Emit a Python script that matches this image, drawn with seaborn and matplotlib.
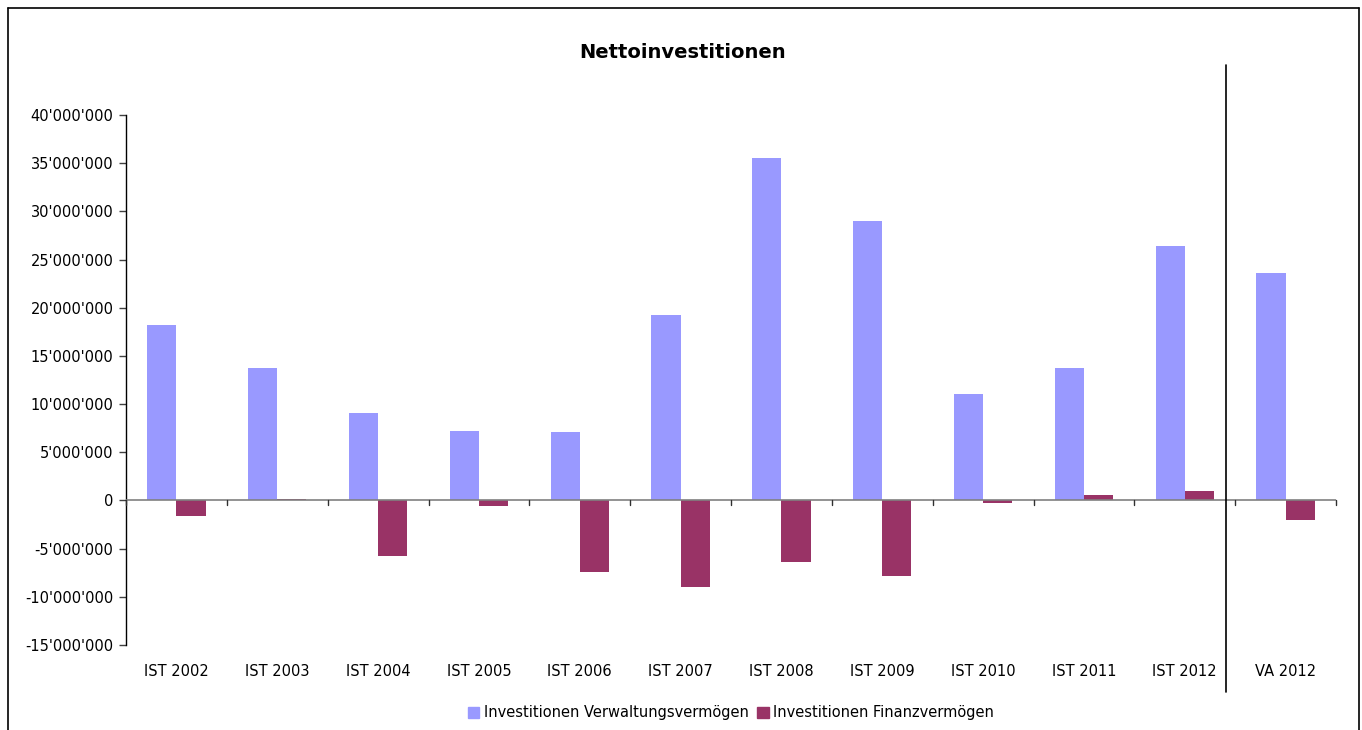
import matplotlib
matplotlib.use("Agg")
import matplotlib.pyplot as plt
import matplotlib.ticker as mticker
from matplotlib.lines import Line2D
import seaborn as sns
import pandas as pd

categories = ["IST 2002", "IST 2003", "IST 2004", "IST 2005", "IST 2006", "IST 2007",
              "IST 2008", "IST 2009", "IST 2010", "IST 2011", "IST 2012", "VA 2012"]
verwaltung = [18.2e6, 13.75e6, 9.08e6, 7.2e6, 7.1e6, 19.25e6,
              35.5e6, 29.0e6, 11.05e6, 13.75e6, 26.45e6, 23.6e6]
finanz = [-1.58e6, 0.15e6, -5.76e6, -0.57e6, -7.4e6, -8.98e6,
          -6.4e6, -7.85e6, -0.23e6, 0.57e6, 0.99e6, -1.99e6]
series_names = ["Investitionen Verwaltungsvermögen", "Investitionen Finanzvermögen"]
colors = ["#9999FF", "#993366"]
yticks = list(range(-15_000_000, 40_000_001, 5_000_000))

df = pd.DataFrame({
    "Kategorie": categories * 2,
    "Wert": verwaltung + finanz,
    "Serie": [series_names[0]] * len(categories) + [series_names[1]] * len(categories),
})

sns.set_style("white")
plt.rcParams["font.family"] = ["DejaVu Sans"]
plt.rcParams["text.color"] = "black"
plt.rcParams["xtick.color"] = "black"
plt.rcParams["ytick.color"] = "black"
plt.rcParams["axes.labelcolor"] = "black"

fig = plt.figure(figsize=(13.62, 7.30), dpi=100)
ax = fig.add_axes([126 / 1362, 1 - 645 / 730, (1336 - 126) / 1362, (645 - 115) / 730])

sns.barplot(data=df, x="Kategorie", y="Wert", hue="Serie", palette=colors,
            width=0.58, gap=0, ax=ax, legend=False, saturation=1, linewidth=0,
            edgecolor="none")

ax.set_ylim(-15_000_000, 40_000_000)
ax.set_xlim(-0.5, len(categories) - 0.5)
ax.set_yticks(yticks)
ax.yaxis.set_major_formatter(mticker.FuncFormatter(
    lambda v, p: f"{int(v):,}".replace(",", "'")))
ax.set_xlabel("")
ax.set_ylabel("")

for s in ["top", "right", "bottom"]:
    ax.spines[s].set_visible(False)
ax.spines["left"].set_color("black")
ax.spines["left"].set_linewidth(1)

ax.axhline(0, color="#808080", lw=1.2, zorder=3)
ax.tick_params(axis="y", which="major", left=True, length=5, width=1, color="#404040",
               labelsize=10.5, pad=4, labelcolor="black")
ax.tick_params(axis="x", which="major", bottom=False, length=0, labelsize=10.5, pad=14,
               labelcolor="black")
# category boundary ticks on the zero line
for b in [i + 0.5 for i in range(-1, len(categories))]:
    ax.plot([b, b], [0, -500_000], color="#303030", lw=1, clip_on=False, zorder=3)

# separator line between IST and VA
sep_x = 1226 / 1362
fig.add_artist(Line2D([sep_x, sep_x], [1 - 65 / 730, 1 - 692 / 730], color="black", lw=1.2))

# figure frame
fig.add_artist(Line2D([8 / 1362, 8 / 1362], [0, 1 - 8 / 730], color="black", lw=1.2))
fig.add_artist(Line2D([8 / 1362, 1359 / 1362], [1 - 8 / 730, 1 - 8 / 730], color="black", lw=1.2))
fig.add_artist(Line2D([1359 / 1362, 1359 / 1362], [0, 1 - 8 / 730], color="black", lw=1.2))

fig.text(683 / 1362, 1 - 53 / 730, "Nettoinvestitionen", ha="center", va="center",
         fontsize=14, fontweight="bold", color="black")

handles = [plt.Rectangle((0, 0), 1, 1, color=c) for c in colors]
fig.legend(handles, series_names, loc="center", bbox_to_anchor=(731 / 1362, 1 - 713 / 730),
           ncol=2, frameon=False, fontsize=10.5, handlelength=0.8, handleheight=0.8,
           handletextpad=0.3, columnspacing=0.6, labelcolor="black")

fig.savefig("out.png", dpi=100)
